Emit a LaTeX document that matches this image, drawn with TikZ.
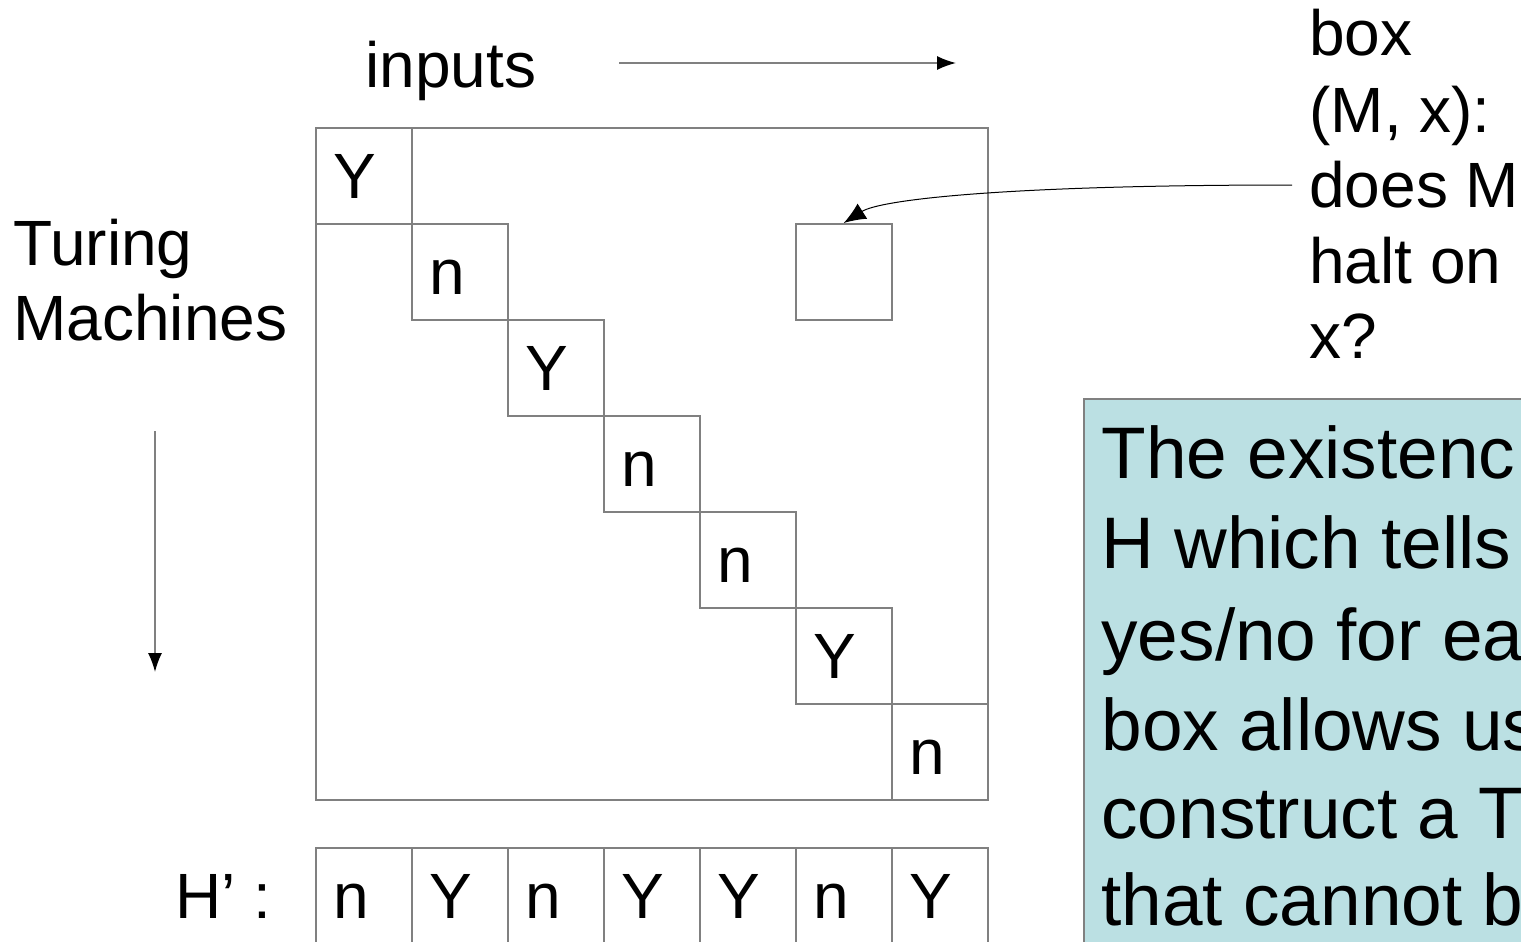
\documentclass[tikz,border=0pt]{standalone}
\usepackage{fontspec}
\setmainfont{Liberation Sans}
\usetikzlibrary{arrows.meta}
\definecolor{gridgray}{HTML}{808080}
\definecolor{tealbox}{HTML}{BBE0E3}
\tikzset{
  cellbox/.style={draw=gridgray, line width=0.75pt, minimum width=48pt, minimum height=48pt, inner sep=0pt, anchor=north west},
  celltxt/.style={anchor=base west, inner sep=0pt, font=\fontsize{32}{38}\selectfont},
  lbl/.style={anchor=base west, inner sep=0pt, font=\fontsize{32}{38}\selectfont},
  bigtxt/.style={anchor=base west, inner sep=0pt, font=\fontsize{36.5}{42}\selectfont},
  grayarrow/.style={draw=gridgray, line width=0.75pt, -{Latex[length=9.5pt,width=7pt,color=black]}},
}
\begin{document}
\begin{tikzpicture}[x=0.5pt,y=-0.5pt]
\useasboundingbox (0,0) rectangle (1521,942);
\clip (0,0) rectangle (1521,942);
% big square
\node[draw=gridgray, line width=0.75pt, minimum width=336pt, minimum height=336pt, inner sep=0pt, anchor=north west] (grid) at (315,127) {};
% diagonal cells
\foreach \i/\t in {0/Y,1/n,2/Y,3/n,4/n,5/Y,6/n} {
  \node[cellbox] (d\i) at ({315+96*\i},{127+96*\i}) {};
  \node[celltxt] (dt\i) at ({333+96*\i},{198+96*\i}) {\t};
}
% extra box
\node[cellbox] (mx) at (795,223) {};
% bottom row
\foreach \i/\t in {0/n,1/Y,2/n,3/Y,4/Y,5/n,6/Y} {
  \node[cellbox, minimum height=60pt] (h\i) at ({315+96*\i},847) {};
  \node[celltxt] (ht\i) at ({333+96*\i},918) {\t};
}
\node[lbl] (hlabel) at (175,918) {H’ :};
% labels
\node[lbl] (inputs) at (365,87) {inputs};
\node[lbl] (tur1) at (13,265) {Turing};
\node[lbl] (tur2) at (13,340) {Machines};
\coordinate (ia) at (619,63);
\coordinate (ib) at (956,63);
\draw[grayarrow] (ia) -- (ib);
\coordinate (ta) at (155,431);
\coordinate (tb) at (155,672);
\draw[grayarrow] (ta) -- (tb);
% right label
\node[lbl] (r1) at (1309,55) {box};
\node[lbl] (r2) at (1309,132) {(M, x):};
\node[lbl] (r3) at (1309,207) {does M};
\node[lbl] (r4) at (1309,283) {halt on};
\node[lbl] (r5) at (1309,358) {x?};
\coordinate (cs) at (1292,185);
\draw[black, line width=0.5pt, -{Latex[length=11pt,width=9pt]}] (cs) .. controls (1000,185) and (880,200) .. (mx.north);
% teal box
\node[draw=gridgray, fill=tealbox, line width=0.75pt, minimum width=300pt, minimum height=300pt, inner sep=0pt, anchor=north west] (tbox) at (1083,398) {};
\node[bigtxt] (b1) at (1101,478) {The existenc};
\node[bigtxt] (b2) at (1101,568) {H which tells};
\node[bigtxt] (b3) at (1101,660) {yes/no for ea};
\node[bigtxt] (b4) at (1101,750) {box allows us};
\node[bigtxt] (b5) at (1101,838) {construct a T};
\node[bigtxt] (b6) at (1101,925) {that cannot b};
\end{tikzpicture}
\end{document}
